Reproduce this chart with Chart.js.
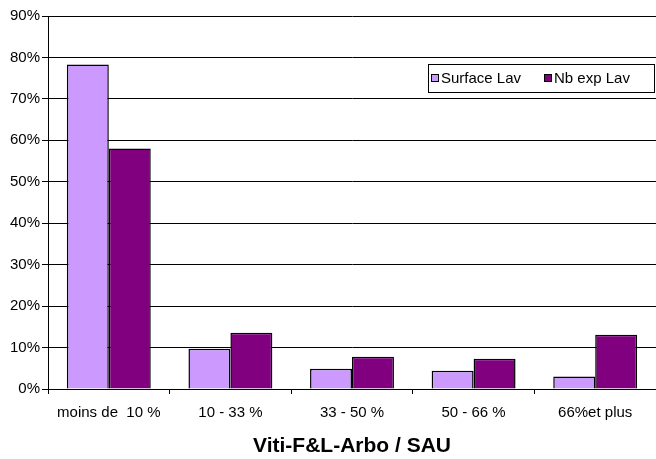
<!DOCTYPE html>
<html><head><meta charset="utf-8">
<script src="https://cdn.jsdelivr.net/npm/chart.js@4/dist/chart.umd.min.js"></script>
<style>html,body{margin:0;padding:0;background:#fff}#w{width:656px;height:459px}</style>
</head><body><div id="w"><canvas id="c" width="656" height="459"></canvas></div>
<script>
const categories = ["moins de  10 %", "10 - 33 %", "33 - 50 %", "50 - 66 %", "66%et plus"];
const surfaceLav = [78.3, 9.7, 4.9, 4.4, 3.0];
const nbExpLav = [58.0, 13.6, 7.8, 7.3, 13.1];
const seriesNames = ["Surface Lav", "Nb exp Lav"];
const xTitle = "Viti-F&L-Arbo / SAU";
const FONT = "'Liberation Sans', Arial, sans-serif";

const legendPlugin = {
  id: 'boxLegend',
  afterDraw(chart) {
    const ctx = chart.ctx;
    ctx.save();
    ctx.fillStyle = '#fff';
    ctx.fillRect(428, 64, 227, 28);
    ctx.strokeStyle = '#000';
    ctx.lineWidth = 1;
    ctx.strokeRect(428.5, 64.5, 226, 28);
    ctx.font = "15px " + FONT;
    ctx.textBaseline = 'middle';
    const xs = [431, 544];
    chart.data.datasets.forEach((ds, i) => {
      ctx.fillStyle = ds.backgroundColor;
      ctx.fillRect(xs[i], 74, 8, 8);
      ctx.strokeStyle = '#000';
      ctx.strokeRect(xs[i] + 0.5, 74.5, 7, 7);
      ctx.fillStyle = '#000';
      ctx.fillText(ds.label, xs[i] + 10, 79);
    });
    ctx.restore();
  }
};

new Chart(document.getElementById('c'), {
  type: 'bar',
  data: {
    labels: categories,
    datasets: [
      { label: seriesNames[0], data: surfaceLav, backgroundColor: '#CC99FF', borderColor: '#000', borderWidth: 1.5 },
      { label: seriesNames[1], data: nbExpLav, backgroundColor: '#800080', borderColor: '#000', borderWidth: 1.5 }
    ]
  },
  options: {
    responsive: false,
    animation: false,
    layout: { padding: { top: 16, right: 0, left: 0, bottom: 0 } },
    datasets: { bar: { categoryPercentage: 0.69, barPercentage: 1.0 } },
    plugins: { legend: { display: false }, tooltip: { enabled: false } },
    scales: {
      x: {
        grid: { display: true, drawOnChartArea: false, offset: true, color: '#000', tickLength: 5 },
        border: { color: '#000', width: 1 },
        ticks: { color: '#000', font: { family: FONT, size: 15 }, padding: 10, maxRotation: 0 },
        title: { display: true, text: xTitle, color: '#000', font: { family: FONT, size: 21, weight: 'bold' }, padding: { top: 8, bottom: 0 } },
        afterFit(s) { s.height = 70; }
      },
      y: {
        min: 0, max: 90,
        grid: { color: '#000', lineWidth: 1, tickLength: 6 },
        border: { color: '#000', width: 1 },
        ticks: { stepSize: 10, color: '#000', font: { family: FONT, size: 15 }, padding: 2, callback: v => v + '%' },
        afterFit(s) { s.width = 48; }
      }
    }
  },
  plugins: [legendPlugin]
});
</script>
</body></html>
